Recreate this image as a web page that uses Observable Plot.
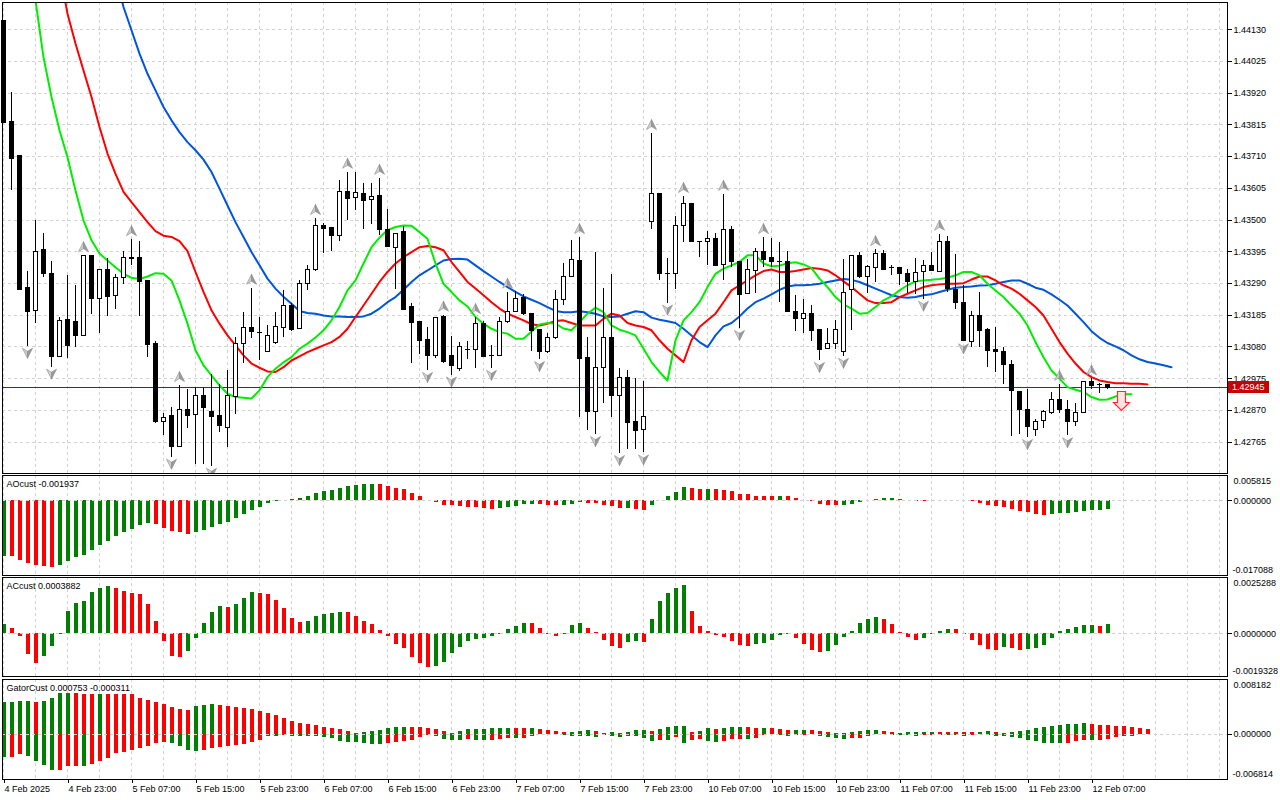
<!DOCTYPE html>
<html><head><meta charset="utf-8">
<script src="https://cdn.jsdelivr.net/npm/d3@7"></script>
<script src="https://cdn.jsdelivr.net/npm/@observablehq/plot@0.6"></script>
<style>
html,body{margin:0;padding:0;background:#fff;}
#chart{position:relative;width:1280px;height:800px;overflow:hidden;background:#fff;}
#chart svg{position:absolute;left:0;}
</style></head><body><div id="chart"></div>
<script>
// ---------- DATA (H1 bars, index 0 = 4 Feb 2025 15:00) ----------
const open = [1.44158,1.43823,1.43711,1.43274,1.43199,1.43400,1.43322,1.43046,1.43168,1.43163,
 1.43117,1.43382,1.43238,1.43333,1.43247,1.43309,1.43375,1.43373,1.43298,1.43088,
 1.42832,1.42850,1.42748,1.42870,1.42854,1.42919,1.42863,1.42852,1.42813,1.42914,
 1.43091,1.43144,1.43128,1.43062,1.43093,1.43144,1.43214,1.43139,1.43287,1.43333,
 1.43481,1.43472,1.43448,1.43594,1.43574,1.43587,1.43567,1.43578,1.43468,1.43408,
 1.43459,1.43212,1.43161,1.43102,1.43051,1.43179,1.43049,1.43007,1.43073,1.43071,
 1.43155,1.43051,1.43051,1.43161,1.43194,1.43241,1.43190,1.43135,1.43064,1.43108,
 1.43236,1.43313,1.43366,1.43042,1.42863,1.43009,1.43110,1.42916,1.42976,1.42830,
 1.42804,1.43495,1.43585,1.43322,1.43322,1.43481,1.43552,1.43428,1.43426,1.43437,
 1.43351,1.43468,1.43360,1.43256,1.43331,1.43395,1.43373,1.43362,1.43360,1.43197,
 1.43172,1.43190,1.43137,1.43073,1.43091,1.43064,1.43269,1.43380,1.43311,1.43342,
 1.43389,1.43342,1.43340,1.43322,1.43294,1.43327,1.43349,1.43329,1.43428,1.43269,
 1.43225,1.43097,1.43183,1.43137,1.43071,1.43064,1.43020,1.42932,1.42872,1.42804,
 1.42835,1.42861,1.42905,1.42872,1.42832,1.42861,1.42965,1.42956,1.42954];
const high = [1.44158,1.43922,1.43711,1.43331,1.43499,1.43457,1.43364,1.43179,1.43318,1.43283,
 1.43382,1.43382,1.43336,1.43373,1.43320,1.43397,1.43435,1.43428,1.43298,1.43097,
 1.42859,1.42879,1.42952,1.42938,1.42947,1.42945,1.42989,1.42956,1.43002,1.43111,
 1.43194,1.43274,1.43177,1.43150,1.43194,1.43267,1.43225,1.43300,1.43349,1.43505,
 1.43490,1.43472,1.43631,1.43658,1.43658,1.43622,1.43622,1.43638,1.43534,1.43455,
 1.43477,1.43223,1.43161,1.43144,1.43177,1.43185,1.43113,1.43093,1.43099,1.43177,
 1.43164,1.43084,1.43177,1.43261,1.43263,1.43252,1.43190,1.43135,1.43124,1.43267,
 1.43357,1.43433,1.43442,1.43110,1.43393,1.43274,1.43320,1.43007,1.43002,1.42974,
 1.42965,1.43786,1.43585,1.43373,1.43512,1.43578,1.43552,1.43428,1.43463,1.43457,
 1.43585,1.43479,1.43360,1.43369,1.43406,1.43442,1.43439,1.43426,1.43397,1.43250,
 1.43238,1.43217,1.43137,1.43141,1.43166,1.43369,1.43383,1.43393,1.43349,1.43402,
 1.43400,1.43349,1.43344,1.43336,1.43373,1.43366,1.43393,1.43453,1.43446,1.43386,
 1.43283,1.43197,1.43261,1.43141,1.43144,1.43079,1.43035,1.42932,1.42938,1.42841,
 1.42870,1.42930,1.42956,1.42903,1.42892,1.42965,1.42974,1.42960,1.42954];
const low = [1.43821,1.43598,1.43267,1.43082,1.43159,1.43309,1.43013,1.43044,1.43040,1.43079,
 1.43117,1.43188,1.43124,1.43181,1.43205,1.43287,1.43351,1.43181,1.43044,1.42826,
 1.42788,1.42715,1.42748,1.42810,1.42691,1.42691,1.42685,1.42797,1.42748,1.42857,
 1.43025,1.43108,1.43035,1.43060,1.43088,1.43111,1.43132,1.43137,1.43267,1.43331,
 1.43389,1.43397,1.43428,1.43497,1.43532,1.43470,1.43486,1.43448,1.43408,1.43269,
 1.43201,1.43026,1.43055,1.43002,1.43042,1.43026,1.42987,1.43000,1.43038,1.43009,
 1.43044,1.43009,1.43049,1.43159,1.43194,1.43185,1.43064,1.43038,1.43058,1.43104,
 1.43218,1.43311,1.42848,1.42804,1.42790,1.42892,1.42848,1.42727,1.42742,1.42742,
 1.42729,1.43470,1.43300,1.43225,1.43271,1.43424,1.43428,1.43375,1.43351,1.43349,
 1.43300,1.43344,1.43141,1.43256,1.43258,1.43344,1.43344,1.43227,1.43194,1.43132,
 1.43126,1.43097,1.43035,1.43073,1.43071,1.43049,1.43135,1.43305,1.43258,1.43294,
 1.43336,1.43316,1.43283,1.43256,1.43252,1.43238,1.43331,1.43329,1.43261,1.43205,
 1.43097,1.43077,1.43079,1.43013,1.42996,1.42956,1.42782,1.42790,1.42780,1.42784,
 1.42810,1.42857,1.42861,1.42786,1.42817,1.42859,1.42940,1.42925,1.42939];
const close = [1.43821,1.43702,1.43267,1.43194,1.43395,1.43320,1.43046,1.43166,1.43084,1.43117,
 1.43382,1.43238,1.43333,1.43245,1.43309,1.43375,1.43371,1.43294,1.43086,1.42830,
 1.42846,1.42748,1.42872,1.42850,1.42919,1.42877,1.42848,1.42817,1.42916,1.43091,
 1.43144,1.43128,1.43128,1.43117,1.43146,1.43214,1.43135,1.43287,1.43333,1.43481,
 1.43470,1.43448,1.43592,1.43569,1.43589,1.43563,1.43576,1.43466,1.43410,1.43455,
 1.43203,1.43159,1.43099,1.43051,1.43177,1.43031,1.43016,1.43079,1.43073,1.43155,
 1.43046,1.43051,1.43164,1.43194,1.43238,1.43188,1.43132,1.43064,1.43111,1.43236,
 1.43313,1.43369,1.43040,1.42863,1.43009,1.43110,1.42916,1.42978,1.42828,1.42801,
 1.42848,1.43585,1.43320,1.43322,1.43481,1.43552,1.43428,1.43428,1.43437,1.43349,
 1.43466,1.43360,1.43252,1.43333,1.43395,1.43369,1.43360,1.43362,1.43194,1.43172,
 1.43190,1.43132,1.43071,1.43091,1.43137,1.43258,1.43380,1.43313,1.43344,1.43389,
 1.43336,1.43342,1.43322,1.43294,1.43324,1.43349,1.43331,1.43428,1.43271,1.43225,
 1.43099,1.43183,1.43132,1.43066,1.43064,1.43020,1.42934,1.42870,1.42815,1.42830,
 1.42863,1.42905,1.42870,1.42832,1.42861,1.42963,1.42952,1.42956,1.42945];

// Alligator lines as drawn (already shifted); first value belongs to bar index *Start
const lipsStart = 3;
const lips = [1.44393,1.44227,1.44039,1.43907,1.43797,1.43708,1.43598,1.43499,1.43433,1.43389,
 1.43366,1.43344,1.43322,1.43309,1.43305,1.43313,1.43324,1.43322,1.43300,1.43234,
 1.43157,1.43069,1.43019,1.42986,1.42953,1.42925,1.42914,1.42912,1.42909,1.42936,
 1.42980,1.43008,1.43029,1.43046,1.43074,1.43091,1.43111,1.43135,1.43168,1.43212,
 1.43267,1.43300,1.43356,1.43410,1.43442,1.43466,1.43477,1.43482,1.43481,1.43460,
 1.43438,1.43356,1.43289,1.43262,1.43234,1.43214,1.43179,1.43157,1.43140,1.43129,
 1.43124,1.43107,1.43107,1.43131,1.43154,1.43159,1.43157,1.43141,1.43135,1.43162,
 1.43190,1.43210,1.43195,1.43151,1.43137,1.43129,1.43118,1.43074,1.43030,1.42997,
 1.42969,1.43102,1.43168,1.43195,1.43228,1.43278,1.43322,1.43339,1.43350,1.43361,
 1.43383,1.43383,1.43356,1.43347,1.43349,1.43357,1.43360,1.43353,1.43341,1.43306,
 1.43278,1.43245,1.43221,1.43207,1.43190,1.43192,1.43212,1.43234,1.43247,1.43267,
 1.43284,1.43297,1.43300,1.43302,1.43305,1.43309,1.43317,1.43328,1.43328,1.43317,
 1.43289,1.43267,1.43245,1.43217,1.43190,1.43151,1.43096,1.43046,1.43002,1.42975,
 1.42947,1.42938,1.42931,1.42914,1.42905,1.42906,1.42916,1.42923,1.42923];
const teethStart = 7;
const teeth = [1.44326,1.44183,1.44084,1.43995,1.43907,1.43808,1.43720,1.43653,1.43593,1.43559,
 1.43526,1.43493,1.43463,1.43448,1.43444,1.43430,1.43397,1.43328,1.43262,1.43201,
 1.43157,1.43118,1.43085,1.43052,1.43025,1.43011,1.42999,1.42997,1.43013,1.43035,
 1.43049,1.43063,1.43074,1.43085,1.43096,1.43113,1.43140,1.43179,1.43217,1.43256,
 1.43295,1.43328,1.43356,1.43377,1.43394,1.43410,1.43414,1.43410,1.43400,1.43361,
 1.43328,1.43295,1.43273,1.43251,1.43228,1.43207,1.43190,1.43179,1.43168,1.43155,
 1.43151,1.43157,1.43166,1.43168,1.43159,1.43151,1.43151,1.43151,1.43173,1.43190,
 1.43184,1.43159,1.43151,1.43146,1.43135,1.43102,1.43074,1.43052,1.43030,1.43102,
 1.43146,1.43168,1.43190,1.43228,1.43267,1.43284,1.43300,1.43317,1.43331,1.43336,
 1.43328,1.43328,1.43331,1.43336,1.43341,1.43339,1.43333,1.43317,1.43297,1.43278,
 1.43256,1.43234,1.43225,1.43225,1.43228,1.43245,1.43256,1.43267,1.43278,1.43284,
 1.43287,1.43289,1.43289,1.43291,1.43303,1.43313,1.43313,1.43300,1.43284,1.43273,
 1.43256,1.43234,1.43212,1.43184,1.43140,1.43096,1.43058,1.43025,1.42997,1.42980,
 1.42969,1.42964,1.42960,1.42960,1.42958,1.42958,1.42956];
const jawStart = 14;
const jaw = [1.44310,1.44205,1.44128,1.44051,1.43984,1.43929,1.43874,1.43830,1.43791,1.43758,
 1.43731,1.43700,1.43659,1.43604,1.43548,1.43493,1.43444,1.43394,1.43350,1.43306,
 1.43273,1.43246,1.43223,1.43199,1.43192,1.43190,1.43184,1.43181,1.43181,1.43179,
 1.43179,1.43181,1.43190,1.43207,1.43228,1.43245,1.43269,1.43295,1.43317,1.43333,
 1.43350,1.43366,1.43371,1.43372,1.43369,1.43350,1.43331,1.43313,1.43295,1.43278,
 1.43262,1.43247,1.43236,1.43225,1.43212,1.43199,1.43195,1.43195,1.43198,1.43195,
 1.43190,1.43181,1.43179,1.43181,1.43190,1.43198,1.43195,1.43177,1.43170,1.43165,
 1.43159,1.43140,1.43118,1.43096,1.43079,1.43118,1.43148,1.43159,1.43181,1.43207,
 1.43228,1.43240,1.43254,1.43269,1.43280,1.43284,1.43284,1.43286,1.43289,1.43295,
 1.43300,1.43305,1.43302,1.43295,1.43284,1.43273,1.43262,1.43251,1.43245,1.43243,
 1.43245,1.43251,1.43254,1.43262,1.43269,1.43276,1.43278,1.43280,1.43283,1.43284,
 1.43289,1.43295,1.43300,1.43300,1.43289,1.43276,1.43269,1.43254,1.43236,1.43217,
 1.43190,1.43162,1.43132,1.43110,1.43093,1.43082,1.43069,1.43052,1.43039,1.43030,
 1.43025,1.43019,1.43013];

const fractalUp = [10,16,22,31,39,43,47,55,59,63,72,81,85,90,95,109,117,132,136];
const fractalDown = [3,6,21,26,53,56,61,67,74,77,80,83,92,102,105,115,120,128,133];
const signalBar = [140];
const signalPrice = [1.42901];
const bid = 1.42945;
const priceTicks = [1.44130,1.44025,1.43920,1.43815,1.43710,1.43605,1.43500,1.43395,1.43290,1.43185,1.43080,1.42975,1.42870,1.42765];

const ao = [-0.01275,-0.01281,-0.01358,-0.01435,-0.01489,-0.01512,-0.01515,-0.01489,-0.01381,-0.01304,
 -0.01243,-0.01128,-0.01013,-0.00921,-0.00821,-0.00721,-0.00645,-0.00575,-0.00529,-0.00552,
 -0.00629,-0.00706,-0.00721,-0.00760,-0.00729,-0.00675,-0.00614,-0.00552,-0.00506,-0.00407,
 -0.00322,-0.00230,-0.00153,-0.00061,-0.00008,0.00015,0.00031,0.00046,0.00092,0.00169,
 0.00215,0.00246,0.00292,0.00322,0.00353,0.00368,0.00372,0.00366,0.00322,0.00276,
 0.00253,0.00176,0.00092,0.00015,-0.00031,-0.00107,-0.00110,-0.00138,-0.00153,-0.00155,
 -0.00184,-0.00186,-0.00169,-0.00153,-0.00130,-0.00092,-0.00077,-0.00092,-0.00107,-0.00110,
 -0.00100,-0.00077,-0.00046,-0.00061,-0.00064,-0.00107,-0.00138,-0.00169,-0.00165,-0.00199,
 -0.00215,-0.00107,-0.00002,0.00092,0.00199,0.00307,0.00276,0.00261,0.00263,0.00258,
 0.00230,0.00215,0.00153,0.00138,0.00107,0.00105,0.00092,0.00094,0.00090,0.00061,
 0.00015,-0.00015,-0.00077,-0.00107,-0.00110,-0.00105,-0.00077,-0.00031,0.00001,0.00031,
 0.00046,0.00048,0.00023,0.00000,-0.00008,-0.00009,0.00002,0.00008,0.00014,0.00015,
 0.00000,-0.00008,-0.00061,-0.00107,-0.00138,-0.00161,-0.00199,-0.00245,-0.00276,-0.00315,
 -0.00338,-0.00315,-0.00292,-0.00290,-0.00261,-0.00246,-0.00222,-0.00220,-0.001937];
const ac = [0.00041,0.00023,-0.00015,-0.00094,-0.00133,-0.00103,-0.00060,-0.00003,0.00098,0.00136,
 0.00146,0.00186,0.00204,0.00211,0.00202,0.00190,0.00181,0.00177,0.00131,0.00054,
 -0.00035,-0.00104,-0.00107,-0.00080,-0.00021,0.00045,0.00097,0.00122,0.00118,0.00131,
 0.00157,0.00187,0.00183,0.00177,0.00151,0.00113,0.00068,0.00050,0.00056,0.00077,
 0.00086,0.00091,0.00095,0.00094,0.00077,0.00054,0.00041,0.00014,-0.00015,-0.00048,
 -0.00068,-0.00107,-0.00134,-0.00153,-0.00148,-0.00130,-0.00091,-0.00062,-0.00035,-0.00026,
 -0.00021,-0.00012,-0.00002,0.00020,0.00032,0.00045,0.00044,0.00023,-0.00005,-0.00012,
 -0.00002,0.00036,0.00045,0.00023,0.00003,-0.00030,-0.00059,-0.00068,-0.00041,-0.00036,
 -0.00041,0.00063,0.00145,0.00181,0.00204,0.00217,0.00100,0.00032,0.00009,-0.00009,
 -0.00018,-0.00036,-0.00054,-0.00059,-0.00050,-0.00045,-0.00032,-0.00008,-0.00003,-0.00023,
 -0.00050,-0.00077,-0.00086,-0.00082,-0.00054,-0.00017,0.00009,0.00045,0.00063,0.00072,
 0.00063,0.00041,0.00005,-0.00017,-0.00032,-0.00023,-0.00003,0.00009,0.00018,0.00017,
 -0.00005,-0.00032,-0.00054,-0.00072,-0.00074,-0.00063,-0.00065,-0.00077,-0.00072,-0.00068,
 -0.00054,-0.00023,0.00009,0.00018,0.00027,0.00036,0.00038,0.00032,0.0003882];
const gatorUp = [0.004700,0.004800,0.004810,0.004850,0.004800,0.004950,0.005400,0.006010,0.006025,0.006015,
 0.006005,0.005995,0.006005,0.005995,0.005985,0.005975,0.005858,0.005404,0.005101,0.004798,
 0.004394,0.004040,0.003737,0.003586,0.004141,0.004343,0.004495,0.004343,0.004192,0.004040,
 0.003889,0.003737,0.003434,0.003131,0.002828,0.002374,0.001919,0.001616,0.001465,0.001313,
 0.001010,0.000859,0.000707,0.000404,0.000101,0.000253,0.000404,0.000556,0.000859,0.001010,
 0.001025,0.001010,0.000995,0.000859,0.000707,0.000404,0.000101,0.000404,0.000707,0.000717,
 0.000727,0.000859,0.000869,0.000879,0.000869,0.000859,0.000884,0.000707,0.000556,0.000404,
 0.000253,0.000268,0.000404,0.000556,0.000354,0.000126,0.000253,0.000101,0.000253,0.000556,
 0.000571,0.000354,0.000657,0.001010,0.001162,0.001177,0.000253,0.000404,0.000859,0.000707,
 0.000859,0.001010,0.001025,0.000909,0.000859,0.000874,0.000859,0.000707,0.000556,0.000571,
 0.000586,0.000566,0.000404,0.000253,0.000101,0.000126,0.000253,0.000404,0.000556,0.000571,
 0.000354,0.000253,0.000152,0.000253,0.000263,0.000273,0.000283,0.000273,0.000263,0.000253,
 0.000242,0.000232,0.000253,0.000404,0.000253,0.000101,0.000253,0.000404,0.000556,0.000859,
 0.001010,0.001162,0.001313,0.001465,0.001490,0.001515,0.001490,0.001313,0.001303,0.001162,
 0.001151,0.001010,0.000859,0.000753];
const gatorDown = [-0.003510,-0.003485,-0.003081,-0.003333,-0.004091,-0.004697,-0.005464,-0.005454,-0.004899,-0.004873,
 -0.004899,-0.004495,-0.004091,-0.003687,-0.002980,-0.002727,-0.002475,-0.002222,-0.001818,-0.001364,
 -0.001212,-0.001364,-0.001818,-0.002475,-0.002626,-0.002424,-0.002172,-0.002071,-0.001919,-0.001667,
 -0.001566,-0.001212,-0.000909,-0.000303,-0.000354,-0.000152,-0.000303,-0.000313,-0.000323,-0.000333,
 -0.000455,-0.000606,-0.001061,-0.001212,-0.001227,-0.001364,-0.001515,-0.001530,-0.001364,-0.001212,
 -0.001061,-0.000909,-0.000455,-0.000152,-0.000404,-0.000758,-0.000909,-0.000934,-0.000884,-0.000909,
 -0.001010,-0.000909,-0.000758,-0.000657,-0.000682,-0.000606,-0.000303,-0.000101,-0.000051,-0.000101,
 -0.000202,-0.000303,-0.000354,-0.000389,-0.000586,-0.000222,-0.000389,-0.000475,-0.000303,-0.000333,
 -0.000707,-0.001061,-0.000909,-0.000934,-0.000505,-0.001364,-0.000944,-0.000833,-0.001111,-0.001333,
 -0.001111,-0.000833,-0.000778,-0.000833,-0.000657,-0.000247,-0.000111,-0.000212,-0.000303,-0.000288,
 -0.000177,-0.000025,-0.000333,-0.000556,-0.000722,-0.000859,-0.000722,-0.000667,-0.000424,-0.000131,
 -0.000091,-0.000192,-0.000222,-0.000278,-0.000303,-0.000222,-0.000192,-0.000177,-0.000202,-0.000278,
 -0.000369,-0.000253,-0.000035,-0.000242,-0.000333,-0.000389,-0.000556,-0.000667,-0.000909,-0.001061,
 -0.001364,-0.001374,-0.001384,-0.001364,-0.001061,-0.000909,-0.000919,-0.000909,-0.000758,-0.000455,
 -0.000354,-0.000311];

const timeLabels = ["4 Feb 2025","4 Feb 23:00","5 Feb 07:00","5 Feb 15:00","5 Feb 23:00","6 Feb 07:00",
 "6 Feb 15:00","6 Feb 23:00","7 Feb 07:00","7 Feb 15:00","7 Feb 23:00","10 Feb 07:00","10 Feb 15:00",
 "10 Feb 23:00","11 Feb 07:00","11 Feb 15:00","11 Feb 23:00","12 Feb 07:00"];
const timeLabelBars = [0,8,16,24,32,40,48,56,64,72,80,88,96,104,112,120,128,136];

const aoDomain = [-0.017088, 0.005815];
const acDomain = [-0.0019328, 0.0025288];
const gatorDomain = [-0.006814, 0.008182];

// ---------- BUILD ----------
const FONT = "'Liberation Sans', Arial, sans-serif";
const FS = "9px";
const X_DOMAIN = [-0.125, 153];
const GREEN = "#008000", RED = "#ff0000";
const GRID = "#d2d2d2";
const gridX = d3.range(0, 153, 4);

const candles = open.map((o, i) => ({i, o, h: high[i], l: low[i], c: close[i]}));
const pts = (arr, start) => arr.map((v, k) => ({j: start + k, v}));

function colorize(vals, mag = v => v) {
  let col = GREEN;
  return vals.map((v, i) => {
    if (i > 0) {
      const a = mag(v), b = mag(vals[i - 1]);
      if (a > b) col = GREEN; else if (a < b) col = RED;
    }
    return {i, v, col};
  });
}

const upL = {draw(c){c.moveTo(0,-5);c.lineTo(0,2);c.lineTo(-5,5);c.closePath();}};
const upR = {draw(c){c.moveTo(0,-5);c.lineTo(5,5);c.lineTo(0,2);c.closePath();}};
const dnL = {draw(c){c.moveTo(0,5);c.lineTo(0,-2);c.lineTo(-5,-5);c.closePath();}};
const dnR = {draw(c){c.moveTo(0,5);c.lineTo(5,-5);c.lineTo(0,-2);c.closePath();}};
const blockDown = {draw(c){
  c.moveTo(-4,-9.5);c.lineTo(4,-9.5);c.lineTo(4,1.5);c.lineTo(8,1.5);
  c.lineTo(0,9.5);c.lineTo(-8,1.5);c.lineTo(-4,1.5);c.closePath();}};

function priceTag(index, scales, values, dims) {
  const y = Math.round(scales.y(bid));
  const x0 = dims.width - dims.marginRight;
  const g = d3.create("svg:g");
  g.append("rect").attr("x", x0 + 1).attr("y", y - 6).attr("width", 41).attr("height", 12)
    .attr("fill", "#c80000").attr("shape-rendering", "crispEdges");
  g.append("text").attr("x", x0 + 5).attr("y", y).attr("dy", "0.36em").attr("fill", "#fff")
    .attr("text-anchor", "start").attr("font-family", FONT).attr("font-size", FS)
    .text(bid.toFixed(5));
  return g.node();
}

const chart = document.getElementById("chart");
const baseStyle = {fontFamily: FONT, fontSize: FS, background: "transparent", color: "#000"};

const main = Plot.plot({
  width: 1280, height: 474, marginLeft: 2, marginRight: 53, marginTop: 2, marginBottom: 1,
  style: baseStyle,
  x: {domain: X_DOMAIN, axis: null},
  y: {domain: [1.42661, 1.44220], label: null},
  marks: [
    Plot.ruleX(gridX, {stroke: GRID, strokeDasharray: "3,3", shapeRendering: "crispEdges"}),
    Plot.ruleY(priceTicks, {stroke: GRID, strokeDasharray: "3,3", shapeRendering: "crispEdges"}),
    Plot.ruleY([bid], {stroke: "#b40000", shapeRendering: "crispEdges"}),
    Plot.line(pts(jaw, jawStart), {x: "j", y: "v", stroke: "#0055dd", strokeWidth: 2, clip: true}),
    Plot.line(pts(teeth, teethStart), {x: "j", y: "v", stroke: "#ff0000", strokeWidth: 2, clip: true}),
    Plot.line(pts(lips, lipsStart), {x: "j", y: "v", stroke: "#00ee00", strokeWidth: 2, clip: true}),
    Plot.ruleX(candles, {x: "i", y1: "l", y2: "h", stroke: "#000", shapeRendering: "crispEdges"}),
    Plot.rect(candles, {x1: d => d.i - 0.25, x2: d => d.i + 0.25, y1: "o", y2: "c",
      fill: d => d.c >= d.o ? "#ffffff" : "#000000", stroke: "#000", shapeRendering: "crispEdges"}),
    Plot.ruleY(candles.filter(d => d.o === d.c), {y: "c", x1: d => d.i - 0.3125, x2: d => d.i + 0.3125,
      stroke: "#000", shapeRendering: "crispEdges"}),
    Plot.dot(fractalUp, {x: d => d, y: d => high[d], dy: -9, symbol: upL, r: 5, fill: "#d0d0d0", stroke: "#8a8a8a", strokeWidth: 0.6, clip: true}),
    Plot.dot(fractalUp, {x: d => d, y: d => high[d], dy: -9, symbol: upR, r: 5, fill: "#9a9a9a", stroke: "#8a8a8a", strokeWidth: 0.6, clip: true}),
    Plot.dot(fractalDown, {x: d => d, y: d => low[d], dy: 7, symbol: dnL, r: 5, fill: "#d0d0d0", stroke: "#8a8a8a", strokeWidth: 0.6, clip: true}),
    Plot.dot(fractalDown, {x: d => d, y: d => low[d], dy: 7, symbol: dnR, r: 5, fill: "#9a9a9a", stroke: "#8a8a8a", strokeWidth: 0.6, clip: true}),
    Plot.dot(signalBar, {x: d => d, y: (d, k) => signalPrice[k], dx: -2, symbol: blockDown, r: 5,
      fill: "#ffe4e4", stroke: "#ff2a2a", strokeWidth: 1.2}),
    Plot.frame({stroke: "#000", shapeRendering: "crispEdges"}),
    Plot.axisY(priceTicks, {anchor: "right", tickSize: 4, tickPadding: 2, label: null,
      tickFormat: d => d.toFixed(5), shapeRendering: "crispEdges"}),
    priceTag
  ]
});
main.style.top = "0px";
chart.appendChild(main);

function panel({top, height, mTop, mBottom, domain, layers, title, fmt, xAxis}) {
  const p = Plot.plot({
    width: 1280, height, marginLeft: 2, marginRight: 53, marginTop: mTop, marginBottom: mBottom,
    style: baseStyle,
    x: {domain: X_DOMAIN, axis: null},
    y: {domain, label: null},
    marks: [
      Plot.ruleX(gridX, {stroke: GRID, strokeDasharray: "3,3", shapeRendering: "crispEdges"}),
      ...layers,
      Plot.ruleY([0], {stroke: "#d0d0d0", strokeDasharray: "3,3", shapeRendering: "crispEdges"}),
      Plot.frame({stroke: "#000", shapeRendering: "crispEdges"}),
      Plot.axisY([0], {anchor: "right", tickSize: 4, tickPadding: 2, label: null, tickFormat: d => fmt(d), shapeRendering: "crispEdges"}),
      Plot.text([domain[1]], {y: d => d, frameAnchor: "right", dx: 6, dy: 6, textAnchor: "start", text: d => fmt(d)}),
      Plot.text([domain[0]], {y: d => d, frameAnchor: "right", dx: 5, dy: -5, textAnchor: "start", text: d => fmt(d)}),
      Plot.text([title], {frameAnchor: "top-left", dx: 4, dy: 5, lineAnchor: "top", textAnchor: "start"}),
      ...(xAxis ? [Plot.axisX(timeLabelBars, {anchor: "bottom", tickSize: 4, tickPadding: 2, label: null,
        textAnchor: "start", dx: 1, tickFormat: d => timeLabels[timeLabelBars.indexOf(d)], shapeRendering: "crispEdges"})] : [])
    ]
  });
  p.style.top = top + "px";
  chart.appendChild(p);
}

const hist = (data) => Plot.ruleX(data, {x: "i", y1: 0, y2: "v", stroke: "col", strokeWidth: 4, shapeRendering: "crispEdges"});

panel({top: 474, height: 102, mTop: 1, mBottom: 1, domain: aoDomain,
  layers: [hist(colorize(ao))], title: "AOcust " + ao[ao.length - 1].toFixed(6), fmt: d => d.toFixed(6)});
panel({top: 576, height: 101, mTop: 1, mBottom: 1, domain: acDomain,
  layers: [hist(colorize(ac))], title: "ACcust " + ac[ac.length - 1].toFixed(7), fmt: d => d.toFixed(7)});
panel({top: 678, height: 122, mTop: 1, mBottom: 21, domain: gatorDomain,
  layers: [hist(colorize(gatorUp)), hist(colorize(gatorDown, Math.abs))],
  title: "GatorCust " + gatorUp[gatorUp.length - 1].toFixed(6) + " " + gatorDown[gatorDown.length - 1].toFixed(6),
  fmt: d => d.toFixed(6), xAxis: true});
</script></body></html>
